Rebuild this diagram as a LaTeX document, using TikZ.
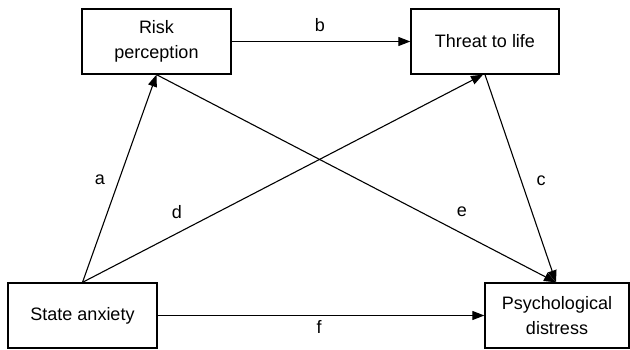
\documentclass[tikz,border=0pt]{standalone}
\usepackage{fontspec}
\setmainfont{Liberation Sans}
\usetikzlibrary{arrows.meta}
\begin{document}
\begin{tikzpicture}[x=1pt,y=-1pt,
  box/.style={draw,line width=1.3pt,rectangle,inner sep=0pt,align=center,
    font=\fontsize{18}{25}\selectfont},
  arr/.style={line width=1.1pt,-{Triangle[length=12pt,width=9pt]},shorten >=0pt},
  lab/.style={font=\fontsize{18}{21}\selectfont,inner sep=0pt}]
\useasboundingbox (0,0) rectangle (630,350);
\node[box,minimum width=149pt,minimum height=65pt] (rp) at (156.5,41.5) {Risk\\perception};
\node[box,minimum width=148pt,minimum height=65pt] (tl) at (485,41.5) {Threat to life};
\node[box,minimum width=149pt,minimum height=65pt] (sa) at (82.5,315.5) {State anxiety};
\node[box,minimum width=144pt,minimum height=65pt] (pd) at (557,315.5) {Psychological\\distress};
\draw[arr] (rp.east) -- (tl.west);
\draw[arr] (sa.north) -- (rp.south);
\draw[arr] (sa.north) -- ([xshift=-2pt]tl.south);
\draw[arr] (rp.south) -- ([xshift=-1pt]pd.north);
\draw[arr] (tl.south) -- ([xshift=-1pt]pd.north);
\draw[arr] (sa.east) -- (pd.west);
\node[lab] (lb) at (320,25) {b};
\node[lab] (la) at (100,180) {a};
\node[lab] (ld) at (177,212) {d};
\node[lab] (le) at (462,212) {e};
\node[lab] (lc) at (541,181) {c};
\node[lab] (lf) at (319,327) {f};
\end{tikzpicture}
\end{document}
